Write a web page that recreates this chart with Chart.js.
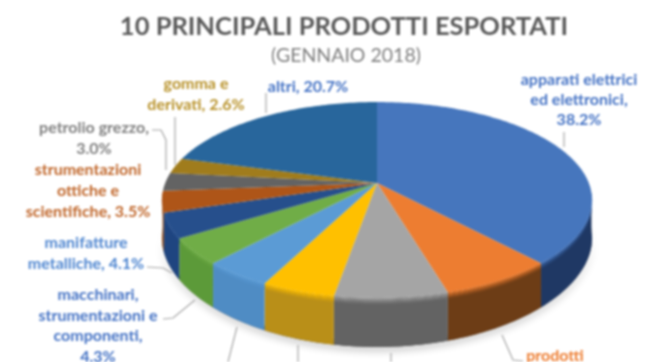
<!DOCTYPE html>
<html>
<head>
<meta charset="utf-8">
<script src="https://cdn.jsdelivr.net/npm/chart.js@4/dist/chart.umd.js"></script>
<style>
  html, body { margin: 0; background: #fff; overflow: hidden; }
  canvas { display: block; filter: blur(0.8px); }
</style>
</head>
<body>
<canvas id="exportChart" width="665" height="362"></canvas>
<script>
const categories = [
  "apparati elettrici ed elettronici", "prodotti", "voce 3", "voce 4", "voce 5",
  "macchinari, strumentazioni e componenti", "manifatture metalliche",
  "strumentazioni ottiche e scientifiche", "petrolio grezzo", "gomma e derivati", "altri"
];
const shares = [38.2, 7.3, 7.2, 4.7, 4.4, 4.3, 4.1, 3.5, 3.0, 2.6, 20.7];

const sliceColors = ["#4676bd", "#ed7d31", "#a5a5a5", "#ffc000", "#5b9bd5", "#70ad47", "#264f8c", "#ae5518", "#636363", "#a07c1c", "#28669c"];
const wallColors = ["#1f3864", "#6d3d16", "#636363", "#b98f18", "#4f8cc4", "#5c9a39", "#1f4580", "#8a4412", "#505050", "#7a5e12", "#1e4f7a"];

const titleText = "10 PRINCIPALI PRODOTTI ESPORTATI";
const subtitleText = "(GENNAIO 2018)";

// [lines, centre x, first baseline, line height, colour]
const labelBlocks = [
  [["apparati elettrici", "ed elettronici,", "38.2%"], 579, 85, 20, "#4472c4"],
  [["altri, 20.7%"], 308, 92, 20, "#4472c4"],
  [["gomma e", "derivati, 2.6%"], 196, 89, 21, "#b8922a"],
  [["petrolio grezzo,", "3.0%"], 94, 133, 21, "#7f7f7f"],
  [["strumentazioni", "ottiche e", "scientifiche, 3.5%"], 88, 175, 21, "#c0662a"],
  [["manifatture", "metalliche, 4.1%"], 86, 248, 21, "#4f86d0"],
  [["macchinari,", "strumentazioni e", "componenti,", "4.3%"], 98, 300, 20.5, "#4472c4"],
  [["prodotti"], 555, 361, 20, "#ed7d31"]
];

const leaderLines = [
  [[266, 93], [266, 113]],
  [[175, 117], [175, 165]],
  [[152, 130], [161, 130], [166, 140], [166, 170]],
  [[147, 267], [163, 268], [172, 273]],
  [[163, 319], [173, 318], [195, 300]],
  [[237, 327], [228, 362]],
  [[298, 345], [298, 362]],
  [[391, 353], [391, 362]],
  [[502, 335], [513, 360], [523, 361]],
  [[564, 132], [564, 147]]
];

// tilted disc seen in perspective
const view = { x: 377, y: 183, kv: -0.1735, ry: 95, rx: 211.8 };

function wallDepth(v) {
  return 38 + 11 * v * v;
}

function project(angle, depth) {
  const u = Math.cos(angle), v = Math.sin(angle);
  const w = 1 + view.kv * v;
  return {
    x: view.x + (view.rx * u) / w,
    y: view.y + (view.ry * v) / w + (depth ? depth * wallDepth(Math.max(v, 0)) : 0)
  };
}

function mixColor(a, b, t) {
  const pa = parseInt(a.slice(1), 16), pb = parseInt(b.slice(1), 16);
  const ch = (s) => Math.round(((pa >> s) & 255) * (1 - t) + ((pb >> s) & 255) * t);
  return `rgb(${ch(16)},${ch(8)},${ch(0)})`;
}

function traceBand(ctx, from, to, d0, d1) {
  const step = Math.PI / 180;
  ctx.beginPath();
  for (let a = from; a < to; a += step) {
    const p = project(a, d0);
    ctx.lineTo(p.x, p.y);
  }
  let e = project(to, d0);
  ctx.lineTo(e.x, e.y);
  for (let a = to; a > from; a -= step) {
    const p = project(a, d1);
    ctx.lineTo(p.x, p.y);
  }
  e = project(from, d1);
  ctx.lineTo(e.x, e.y);
  ctx.closePath();
}

class DiscArc extends Chart.ArcElement {
  draw(ctx) {
    const { startAngle, endAngle } = this;
    const top = this.options.backgroundColor;
    const wall = wallColors[sliceColors.indexOf(top)];

    // only the part of the rim that faces the viewer has a wall
    const twoPi = Math.PI * 2;
    const lo = 0.1, hi = Math.PI - 0.1;
    for (const shift of [0, twoPi, -twoPi]) {
      const from = Math.max(startAngle + shift, lo);
      const to = Math.min(endAngle + shift, hi);
      if (to <= from) continue;
      ctx.fillStyle = wall;
      traceBand(ctx, from, to, 0, 1);
      ctx.fill();
      for (let i = 0; i < 6; i++) {
        ctx.fillStyle = mixColor(top, wall, (i + 1) / 7);
        traceBand(ctx, from, to, i * 0.02, (i + 1.3) * 0.02);
        ctx.fill();
      }
    }

    ctx.fillStyle = top;
    ctx.beginPath();
    ctx.moveTo(view.x, view.y);
    for (let a = startAngle; a < endAngle; a += Math.PI / 180) {
      const p = project(a);
      ctx.lineTo(p.x, p.y);
    }
    const p = project(endAngle);
    ctx.lineTo(p.x, p.y);
    ctx.closePath();
    ctx.fill();
  }
}
DiscArc.id = "discArc";
DiscArc.defaults = { ...Chart.ArcElement.defaults };

class DiscController extends Chart.PieController {
  draw() {
    const ctx = this.chart.ctx;
    ctx.save();
    ctx.shadowColor = "rgba(0,0,0,0.32)";
    ctx.shadowBlur = 9;
    ctx.shadowOffsetY = 3;
    ctx.fillStyle = "#555";
    traceBand(ctx, 0.1, Math.PI - 0.1, 0.9, 1);
    ctx.fill();
    ctx.restore();
    super.draw();
  }
}
DiscController.id = "disc";
DiscController.defaults = { dataElementType: "discArc" };

Chart.register(DiscArc, DiscController);

const chartText = {
  id: "chartText",
  afterDraw(chart) {
    const ctx = chart.ctx;
    ctx.save();
    ctx.strokeStyle = "#a6a6a6";
    ctx.lineWidth = 1.2;
    leaderLines.forEach((pts) => {
      ctx.beginPath();
      pts.forEach((p) => ctx.lineTo(p[0], p[1]));
      ctx.stroke();
    });

    ctx.textAlign = "center";
    ctx.fillStyle = "#595959";
    ctx.font = "bold 25.5px Lato";
    ctx.fillText(titleText, 344, 35);
    ctx.fillStyle = "#7f7f7f";
    ctx.font = "19.5px Lato";
    ctx.fillText(subtitleText, 346, 62);

    ctx.font = "bold 16px Lato";
    labelBlocks.forEach(([lines, x, y, lh, color]) => {
      ctx.fillStyle = color;
      lines.forEach((line, i) => ctx.fillText(line, x, y + i * lh));
    });
    ctx.restore();
  }
};

new Chart(document.getElementById("exportChart"), {
  type: "disc",
  data: {
    labels: categories,
    datasets: [{ data: shares, backgroundColor: sliceColors, borderWidth: 0 }]
  },
  options: {
    responsive: false,
    animation: false,
    events: [],
    plugins: { legend: { display: false }, tooltip: { enabled: false } }
  },
  plugins: [chartText]
});
</script>
</body>
</html>
